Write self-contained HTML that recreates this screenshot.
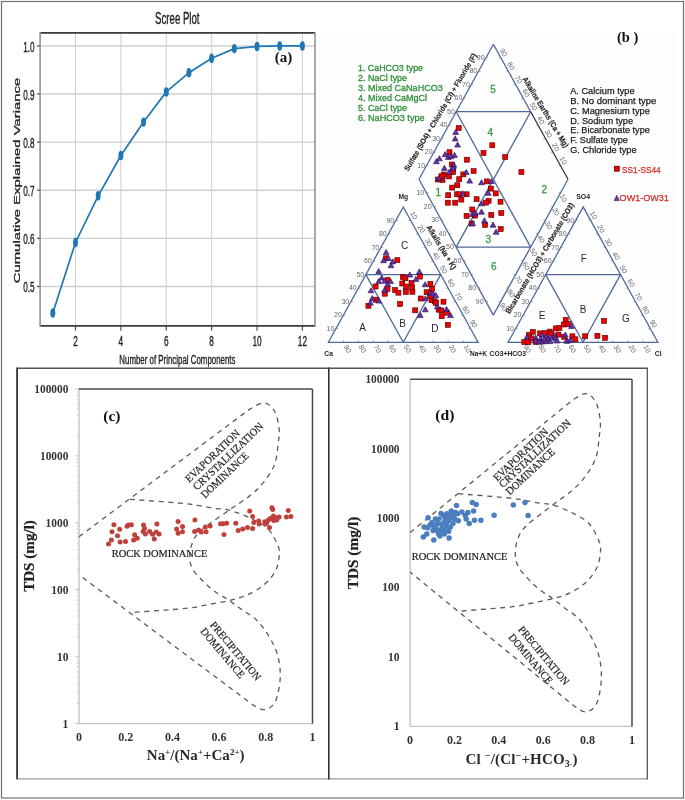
<!DOCTYPE html>
<html><head><meta charset="utf-8"><style>
html,body{margin:0;padding:0;background:#fff;}
svg{display:block;will-change:transform;}
</style></head><body>
<svg width="685" height="800" viewBox="0 0 685 800">
<rect width="685" height="800" fill="#fff"/>
<rect x="1.5" y="1.5" width="682" height="796.5" fill="none" stroke="#707070" stroke-width="1.2"/>
<line x1="75.50" y1="32.90" x2="75.50" y2="325.90" stroke="#d2d2d2" stroke-width="1.1" />
<line x1="75.50" y1="325.90" x2="75.50" y2="330.70" stroke="#444" stroke-width="1.1" />
<line x1="120.88" y1="32.90" x2="120.88" y2="325.90" stroke="#d2d2d2" stroke-width="1.1" />
<line x1="120.88" y1="325.90" x2="120.88" y2="330.70" stroke="#444" stroke-width="1.1" />
<line x1="166.26" y1="32.90" x2="166.26" y2="325.90" stroke="#d2d2d2" stroke-width="1.1" />
<line x1="166.26" y1="325.90" x2="166.26" y2="330.70" stroke="#444" stroke-width="1.1" />
<line x1="211.64" y1="32.90" x2="211.64" y2="325.90" stroke="#d2d2d2" stroke-width="1.1" />
<line x1="211.64" y1="325.90" x2="211.64" y2="330.70" stroke="#444" stroke-width="1.1" />
<line x1="257.02" y1="32.90" x2="257.02" y2="325.90" stroke="#d2d2d2" stroke-width="1.1" />
<line x1="257.02" y1="325.90" x2="257.02" y2="330.70" stroke="#444" stroke-width="1.1" />
<line x1="302.40" y1="32.90" x2="302.40" y2="325.90" stroke="#d2d2d2" stroke-width="1.1" />
<line x1="302.40" y1="325.90" x2="302.40" y2="330.70" stroke="#444" stroke-width="1.1" />
<line x1="40.10" y1="286.45" x2="315.00" y2="286.45" stroke="#cfcfcf" stroke-width="1.4" />
<line x1="37.30" y1="286.45" x2="40.10" y2="286.45" stroke="#444" stroke-width="1.4" />
<line x1="40.10" y1="238.35" x2="315.00" y2="238.35" stroke="#cfcfcf" stroke-width="1.4" />
<line x1="37.30" y1="238.35" x2="40.10" y2="238.35" stroke="#444" stroke-width="1.4" />
<line x1="40.10" y1="190.25" x2="315.00" y2="190.25" stroke="#cfcfcf" stroke-width="1.4" />
<line x1="37.30" y1="190.25" x2="40.10" y2="190.25" stroke="#444" stroke-width="1.4" />
<line x1="40.10" y1="142.15" x2="315.00" y2="142.15" stroke="#cfcfcf" stroke-width="1.4" />
<line x1="37.30" y1="142.15" x2="40.10" y2="142.15" stroke="#444" stroke-width="1.4" />
<line x1="40.10" y1="94.05" x2="315.00" y2="94.05" stroke="#cfcfcf" stroke-width="1.4" />
<line x1="37.30" y1="94.05" x2="40.10" y2="94.05" stroke="#444" stroke-width="1.4" />
<line x1="40.10" y1="45.95" x2="315.00" y2="45.95" stroke="#cfcfcf" stroke-width="1.4" />
<line x1="37.30" y1="45.95" x2="40.10" y2="45.95" stroke="#444" stroke-width="1.4" />
<line x1="40.10" y1="32.90" x2="315.00" y2="32.90" stroke="#3c3c3c" stroke-width="1.7" />
<line x1="40.10" y1="325.90" x2="315.00" y2="325.90" stroke="#3c3c3c" stroke-width="1.7" />
<line x1="40.10" y1="32.10" x2="40.10" y2="326.70" stroke="#8c8c8c" stroke-width="1.5" />
<line x1="315.00" y1="32.10" x2="315.00" y2="326.70" stroke="#8c8c8c" stroke-width="1.5" />
<polyline points="52.81,313.00 75.50,242.49 98.19,195.78 120.88,155.52 143.57,122.09 166.26,91.89 188.95,72.69 211.64,58.22 234.33,48.60 257.02,46.43 279.71,45.95 302.40,45.95" fill="none" stroke="#1f77b4" stroke-width="1.7"/>
<ellipse cx="52.81" cy="313.00" rx="2.5" ry="4.7" fill="#1f77b4"/>
<ellipse cx="75.50" cy="242.49" rx="2.5" ry="4.7" fill="#1f77b4"/>
<ellipse cx="98.19" cy="195.78" rx="2.5" ry="4.7" fill="#1f77b4"/>
<ellipse cx="120.88" cy="155.52" rx="2.5" ry="4.7" fill="#1f77b4"/>
<ellipse cx="143.57" cy="122.09" rx="2.5" ry="4.7" fill="#1f77b4"/>
<ellipse cx="166.26" cy="91.89" rx="2.5" ry="4.7" fill="#1f77b4"/>
<ellipse cx="188.95" cy="72.69" rx="2.5" ry="4.7" fill="#1f77b4"/>
<ellipse cx="211.64" cy="58.22" rx="2.5" ry="4.7" fill="#1f77b4"/>
<ellipse cx="234.33" cy="48.60" rx="2.5" ry="4.7" fill="#1f77b4"/>
<ellipse cx="257.02" cy="46.43" rx="2.5" ry="4.7" fill="#1f77b4"/>
<ellipse cx="279.71" cy="45.95" rx="2.5" ry="4.7" fill="#1f77b4"/>
<ellipse cx="302.40" cy="45.95" rx="2.5" ry="4.7" fill="#1f77b4"/>
<text transform="translate(75.50,346.00) scale(0.6,1)" font-family="Liberation Sans" font-size="13.8" font-weight="normal" text-anchor="middle" fill="#222" stroke="#222" stroke-width="0.35">2</text>
<text transform="translate(120.88,346.00) scale(0.6,1)" font-family="Liberation Sans" font-size="13.8" font-weight="normal" text-anchor="middle" fill="#222" stroke="#222" stroke-width="0.35">4</text>
<text transform="translate(166.26,346.00) scale(0.6,1)" font-family="Liberation Sans" font-size="13.8" font-weight="normal" text-anchor="middle" fill="#222" stroke="#222" stroke-width="0.35">6</text>
<text transform="translate(211.64,346.00) scale(0.6,1)" font-family="Liberation Sans" font-size="13.8" font-weight="normal" text-anchor="middle" fill="#222" stroke="#222" stroke-width="0.35">8</text>
<text transform="translate(257.02,346.00) scale(0.6,1)" font-family="Liberation Sans" font-size="13.8" font-weight="normal" text-anchor="middle" fill="#222" stroke="#222" stroke-width="0.35">10</text>
<text transform="translate(302.40,346.00) scale(0.6,1)" font-family="Liberation Sans" font-size="13.8" font-weight="normal" text-anchor="middle" fill="#222" stroke="#222" stroke-width="0.35">12</text>
<text transform="translate(34.60,292.05) scale(0.57,1)" font-family="Liberation Sans" font-size="14.4" font-weight="normal" text-anchor="end" fill="#222" stroke="#222" stroke-width="0.35">0.5</text>
<text transform="translate(34.60,243.95) scale(0.57,1)" font-family="Liberation Sans" font-size="14.4" font-weight="normal" text-anchor="end" fill="#222" stroke="#222" stroke-width="0.35">0.6</text>
<text transform="translate(34.60,195.85) scale(0.57,1)" font-family="Liberation Sans" font-size="14.4" font-weight="normal" text-anchor="end" fill="#222" stroke="#222" stroke-width="0.35">0.7</text>
<text transform="translate(34.60,147.75) scale(0.57,1)" font-family="Liberation Sans" font-size="14.4" font-weight="normal" text-anchor="end" fill="#222" stroke="#222" stroke-width="0.35">0.8</text>
<text transform="translate(34.60,99.65) scale(0.57,1)" font-family="Liberation Sans" font-size="14.4" font-weight="normal" text-anchor="end" fill="#222" stroke="#222" stroke-width="0.35">0.9</text>
<text transform="translate(34.60,51.55) scale(0.57,1)" font-family="Liberation Sans" font-size="14.4" font-weight="normal" text-anchor="end" fill="#222" stroke="#222" stroke-width="0.35">1.0</text>
<text transform="translate(177.40,364.40) scale(0.617,1)" font-family="Liberation Sans" font-size="12.8" font-weight="normal" text-anchor="middle" fill="#222" stroke="#222" stroke-width="0.35">Number of Principal Components</text>
<text transform="translate(177.30,24.20) scale(0.575,1)" font-family="Liberation Sans" font-size="16.8" font-weight="normal" text-anchor="middle" fill="#222" stroke="#222" stroke-width="0.35">Scree Plot</text>
<text transform="translate(19.8,180.5) rotate(-90) scale(1,0.6)" font-family="Liberation Sans" font-size="14.9" text-anchor="middle" fill="#222" stroke="#222" stroke-width="0.45">Cumulative Explained Variance</text>
<text x="283.40" y="61.60" font-family="Liberation Serif" font-size="15" font-weight="bold" text-anchor="middle" fill="#111" >(a)</text>
<line x1="17" y1="368.2" x2="647.3" y2="368.2" stroke="#555" stroke-width="1.6"/>
<line x1="17.1" y1="367.5" x2="17.1" y2="779.5" stroke="#333" stroke-width="1.8"/>
<line x1="17" y1="778.9" x2="647.3" y2="778.9" stroke="#999" stroke-width="1.3"/>
<line x1="328.8" y1="367.5" x2="328.8" y2="779.5" stroke="#333" stroke-width="1.6"/>
<line x1="647.3" y1="367.5" x2="647.3" y2="779.5" stroke="#555" stroke-width="1.3"/>
<line x1="79.00" y1="389.00" x2="79.00" y2="723.65" stroke="#c4c4c4" stroke-width="1.4" />
<line x1="79.00" y1="723.65" x2="312.50" y2="723.65" stroke="#c4c4c4" stroke-width="1.4" />
<line x1="79.00" y1="389.00" x2="312.50" y2="389.00" stroke="#4a4a4a" stroke-width="1.5" />
<line x1="312.50" y1="389.00" x2="312.50" y2="723.65" stroke="#4a4a4a" stroke-width="1.5" />
<line x1="75.50" y1="723.65" x2="79.00" y2="723.65" stroke="#bdbdbd" stroke-width="1" />
<line x1="76.50" y1="703.50" x2="79.00" y2="703.50" stroke="#c8c8c8" stroke-width="0.8" />
<line x1="76.50" y1="691.72" x2="79.00" y2="691.72" stroke="#c8c8c8" stroke-width="0.8" />
<line x1="76.50" y1="683.35" x2="79.00" y2="683.35" stroke="#c8c8c8" stroke-width="0.8" />
<line x1="76.50" y1="676.87" x2="79.00" y2="676.87" stroke="#c8c8c8" stroke-width="0.8" />
<line x1="76.50" y1="671.57" x2="79.00" y2="671.57" stroke="#c8c8c8" stroke-width="0.8" />
<line x1="76.50" y1="667.09" x2="79.00" y2="667.09" stroke="#c8c8c8" stroke-width="0.8" />
<line x1="76.50" y1="663.21" x2="79.00" y2="663.21" stroke="#c8c8c8" stroke-width="0.8" />
<line x1="76.50" y1="659.78" x2="79.00" y2="659.78" stroke="#c8c8c8" stroke-width="0.8" />
<text x="68.40" y="727.55" font-family="Liberation Serif" font-size="11.5" font-weight="bold" text-anchor="end" fill="#333" textLength="5.8" lengthAdjust="spacingAndGlyphs" >1</text>
<line x1="75.50" y1="656.72" x2="79.00" y2="656.72" stroke="#bdbdbd" stroke-width="1" />
<line x1="76.50" y1="636.57" x2="79.00" y2="636.57" stroke="#c8c8c8" stroke-width="0.8" />
<line x1="76.50" y1="624.79" x2="79.00" y2="624.79" stroke="#c8c8c8" stroke-width="0.8" />
<line x1="76.50" y1="616.42" x2="79.00" y2="616.42" stroke="#c8c8c8" stroke-width="0.8" />
<line x1="76.50" y1="609.94" x2="79.00" y2="609.94" stroke="#c8c8c8" stroke-width="0.8" />
<line x1="76.50" y1="604.64" x2="79.00" y2="604.64" stroke="#c8c8c8" stroke-width="0.8" />
<line x1="76.50" y1="600.16" x2="79.00" y2="600.16" stroke="#c8c8c8" stroke-width="0.8" />
<line x1="76.50" y1="596.28" x2="79.00" y2="596.28" stroke="#c8c8c8" stroke-width="0.8" />
<line x1="76.50" y1="592.85" x2="79.00" y2="592.85" stroke="#c8c8c8" stroke-width="0.8" />
<text x="68.40" y="660.62" font-family="Liberation Serif" font-size="11.5" font-weight="bold" text-anchor="end" fill="#333" textLength="11.5" lengthAdjust="spacingAndGlyphs" >10</text>
<line x1="75.50" y1="589.79" x2="79.00" y2="589.79" stroke="#bdbdbd" stroke-width="1" />
<line x1="76.50" y1="569.64" x2="79.00" y2="569.64" stroke="#c8c8c8" stroke-width="0.8" />
<line x1="76.50" y1="557.86" x2="79.00" y2="557.86" stroke="#c8c8c8" stroke-width="0.8" />
<line x1="76.50" y1="549.49" x2="79.00" y2="549.49" stroke="#c8c8c8" stroke-width="0.8" />
<line x1="76.50" y1="543.01" x2="79.00" y2="543.01" stroke="#c8c8c8" stroke-width="0.8" />
<line x1="76.50" y1="537.71" x2="79.00" y2="537.71" stroke="#c8c8c8" stroke-width="0.8" />
<line x1="76.50" y1="533.23" x2="79.00" y2="533.23" stroke="#c8c8c8" stroke-width="0.8" />
<line x1="76.50" y1="529.35" x2="79.00" y2="529.35" stroke="#c8c8c8" stroke-width="0.8" />
<line x1="76.50" y1="525.92" x2="79.00" y2="525.92" stroke="#c8c8c8" stroke-width="0.8" />
<text x="68.40" y="593.69" font-family="Liberation Serif" font-size="11.5" font-weight="bold" text-anchor="end" fill="#333" textLength="17.2" lengthAdjust="spacingAndGlyphs" >100</text>
<line x1="75.50" y1="522.86" x2="79.00" y2="522.86" stroke="#bdbdbd" stroke-width="1" />
<line x1="76.50" y1="502.71" x2="79.00" y2="502.71" stroke="#c8c8c8" stroke-width="0.8" />
<line x1="76.50" y1="490.93" x2="79.00" y2="490.93" stroke="#c8c8c8" stroke-width="0.8" />
<line x1="76.50" y1="482.56" x2="79.00" y2="482.56" stroke="#c8c8c8" stroke-width="0.8" />
<line x1="76.50" y1="476.08" x2="79.00" y2="476.08" stroke="#c8c8c8" stroke-width="0.8" />
<line x1="76.50" y1="470.78" x2="79.00" y2="470.78" stroke="#c8c8c8" stroke-width="0.8" />
<line x1="76.50" y1="466.30" x2="79.00" y2="466.30" stroke="#c8c8c8" stroke-width="0.8" />
<line x1="76.50" y1="462.42" x2="79.00" y2="462.42" stroke="#c8c8c8" stroke-width="0.8" />
<line x1="76.50" y1="458.99" x2="79.00" y2="458.99" stroke="#c8c8c8" stroke-width="0.8" />
<text x="68.40" y="526.76" font-family="Liberation Serif" font-size="11.5" font-weight="bold" text-anchor="end" fill="#333" textLength="22.8" lengthAdjust="spacingAndGlyphs" >1000</text>
<line x1="75.50" y1="455.93" x2="79.00" y2="455.93" stroke="#bdbdbd" stroke-width="1" />
<line x1="76.50" y1="435.78" x2="79.00" y2="435.78" stroke="#c8c8c8" stroke-width="0.8" />
<line x1="76.50" y1="424.00" x2="79.00" y2="424.00" stroke="#c8c8c8" stroke-width="0.8" />
<line x1="76.50" y1="415.63" x2="79.00" y2="415.63" stroke="#c8c8c8" stroke-width="0.8" />
<line x1="76.50" y1="409.15" x2="79.00" y2="409.15" stroke="#c8c8c8" stroke-width="0.8" />
<line x1="76.50" y1="403.85" x2="79.00" y2="403.85" stroke="#c8c8c8" stroke-width="0.8" />
<line x1="76.50" y1="399.37" x2="79.00" y2="399.37" stroke="#c8c8c8" stroke-width="0.8" />
<line x1="76.50" y1="395.49" x2="79.00" y2="395.49" stroke="#c8c8c8" stroke-width="0.8" />
<line x1="76.50" y1="392.06" x2="79.00" y2="392.06" stroke="#c8c8c8" stroke-width="0.8" />
<text x="68.40" y="459.83" font-family="Liberation Serif" font-size="11.5" font-weight="bold" text-anchor="end" fill="#333" textLength="28.4" lengthAdjust="spacingAndGlyphs" >10000</text>
<line x1="75.50" y1="389.00" x2="79.00" y2="389.00" stroke="#bdbdbd" stroke-width="1" />
<text x="68.40" y="392.90" font-family="Liberation Serif" font-size="11.5" font-weight="bold" text-anchor="end" fill="#333" textLength="34.1" lengthAdjust="spacingAndGlyphs" >100000</text>
<text x="79.00" y="740.75" font-family="Liberation Serif" font-size="12" font-weight="bold" text-anchor="middle" fill="#333" >0</text>
<text x="125.70" y="740.75" font-family="Liberation Serif" font-size="12" font-weight="bold" text-anchor="middle" fill="#333" >0.2</text>
<text x="172.40" y="740.75" font-family="Liberation Serif" font-size="12" font-weight="bold" text-anchor="middle" fill="#333" >0.4</text>
<text x="219.10" y="740.75" font-family="Liberation Serif" font-size="12" font-weight="bold" text-anchor="middle" fill="#333" >0.6</text>
<text x="265.80" y="740.75" font-family="Liberation Serif" font-size="12" font-weight="bold" text-anchor="middle" fill="#333" >0.8</text>
<text x="312.50" y="740.75" font-family="Liberation Serif" font-size="12" font-weight="bold" text-anchor="middle" fill="#333" >1</text>
<line x1="410.10" y1="379.30" x2="410.10" y2="726.40" stroke="#c4c4c4" stroke-width="1.4" />
<line x1="410.10" y1="726.40" x2="632.00" y2="726.40" stroke="#c4c4c4" stroke-width="1.4" />
<line x1="410.10" y1="379.30" x2="632.00" y2="379.30" stroke="#4a4a4a" stroke-width="1.5" />
<line x1="632.00" y1="379.30" x2="632.00" y2="726.40" stroke="#4a4a4a" stroke-width="1.5" />
<text x="399.50" y="730.30" font-family="Liberation Serif" font-size="11.5" font-weight="bold" text-anchor="end" fill="#333" textLength="5.8" lengthAdjust="spacingAndGlyphs" >1</text>
<text x="399.50" y="660.88" font-family="Liberation Serif" font-size="11.5" font-weight="bold" text-anchor="end" fill="#333" textLength="11.5" lengthAdjust="spacingAndGlyphs" >10</text>
<text x="399.50" y="591.46" font-family="Liberation Serif" font-size="11.5" font-weight="bold" text-anchor="end" fill="#333" textLength="17.2" lengthAdjust="spacingAndGlyphs" >100</text>
<text x="399.50" y="522.04" font-family="Liberation Serif" font-size="11.5" font-weight="bold" text-anchor="end" fill="#333" textLength="22.8" lengthAdjust="spacingAndGlyphs" >1000</text>
<text x="399.50" y="452.62" font-family="Liberation Serif" font-size="11.5" font-weight="bold" text-anchor="end" fill="#333" textLength="28.4" lengthAdjust="spacingAndGlyphs" >10000</text>
<text x="399.50" y="383.20" font-family="Liberation Serif" font-size="11.5" font-weight="bold" text-anchor="end" fill="#333" textLength="34.1" lengthAdjust="spacingAndGlyphs" >100000</text>
<text x="410.10" y="743.50" font-family="Liberation Serif" font-size="12" font-weight="bold" text-anchor="middle" fill="#333" >0</text>
<text x="454.48" y="743.50" font-family="Liberation Serif" font-size="12" font-weight="bold" text-anchor="middle" fill="#333" >0.2</text>
<text x="498.86" y="743.50" font-family="Liberation Serif" font-size="12" font-weight="bold" text-anchor="middle" fill="#333" >0.4</text>
<text x="543.24" y="743.50" font-family="Liberation Serif" font-size="12" font-weight="bold" text-anchor="middle" fill="#333" >0.6</text>
<text x="587.62" y="743.50" font-family="Liberation Serif" font-size="12" font-weight="bold" text-anchor="middle" fill="#333" >0.8</text>
<text x="632.00" y="743.50" font-family="Liberation Serif" font-size="12" font-weight="bold" text-anchor="middle" fill="#333" >1</text>
<path d="M79.00,536.78 L250.16,408.88 C252.49,407.86 260.08,402.35 264.17,402.79 C268.25,403.22 272.18,407.09 274.67,411.49 C277.16,415.88 278.53,423.87 279.11,429.16 C279.69,434.45 278.91,437.40 278.18,443.21 C277.44,449.03 277.01,457.63 274.67,464.03 C272.34,470.43 268.25,476.37 264.17,481.63 C260.08,486.90 255.99,490.87 250.16,495.62 C244.32,500.37 237.31,504.35 229.14,510.14 C220.97,515.93 207.23,524.93 201.12,530.36 C195.01,535.78 194.39,538.29 192.48,542.67 C190.57,547.06 189.68,552.29 189.68,556.66 C189.68,561.03 190.26,564.83 192.48,568.91 C194.70,572.99 199.21,577.36 202.99,581.16 C206.76,584.95 210.77,588.44 215.13,591.66 C219.49,594.89 224.78,597.58 229.14,600.50 C233.50,603.42 236.30,605.53 241.28,609.20 C246.26,612.87 253.35,615.92 259.03,622.52 C264.71,629.12 271.83,640.05 275.37,648.82 C278.91,657.59 280.28,666.36 280.28,675.13 C280.28,683.89 278.10,695.67 275.37,701.43 C272.65,707.19 267.75,709.13 263.93,709.66 C260.12,710.20 254.40,705.48 252.49,704.64 L79.00,574.86" fill="none" stroke="#5a5a5a" stroke-width="1.3" stroke-dasharray="5 4.6"/>
<path d="M129.90,499.30 C138.27,499.95 168.82,502.18 180.11,503.18 C191.39,504.19 191.78,504.44 197.62,505.32 C203.46,506.21 209.88,507.67 215.13,508.47 C220.38,509.27 223.30,508.55 229.14,510.14 C234.98,511.74 243.73,514.97 250.16,518.04 C256.58,521.11 263.00,523.88 267.67,528.55 C272.34,533.22 276.27,541.40 278.18,546.08 C280.08,550.77 279.54,552.57 279.11,556.66 C278.68,560.75 278.10,565.97 275.61,570.65 C273.12,575.32 268.99,580.61 264.17,584.70 C259.34,588.80 252.49,592.58 246.65,595.21 C240.82,597.84 235.83,598.88 229.14,600.50 C222.45,602.12 213.77,603.60 206.49,604.92 C199.21,606.23 198.32,607.10 185.48,608.40 C172.63,609.69 138.78,611.97 129.44,612.68" fill="none" stroke="#5a5a5a" stroke-width="1.3" stroke-dasharray="5 4.6"/>
<path d="M410.10,532.58 L572.75,399.92 C574.97,398.86 582.18,393.15 586.07,393.60 C589.95,394.05 593.69,398.07 596.05,402.63 C598.42,407.18 599.71,415.47 600.27,420.95 C600.82,426.44 600.08,429.50 599.38,435.53 C598.68,441.56 598.27,450.48 596.05,457.12 C593.83,463.76 589.95,469.92 586.07,475.38 C582.18,480.84 578.30,484.96 572.75,489.89 C567.21,494.81 560.55,498.95 552.78,504.95 C545.02,510.96 531.96,520.29 526.15,525.92 C520.35,531.54 519.76,534.14 517.94,538.69 C516.13,543.24 515.28,548.66 515.28,553.20 C515.28,557.73 515.84,561.67 517.94,565.90 C520.05,570.14 524.34,574.67 527.93,578.60 C531.52,582.54 535.33,586.16 539.47,589.50 C543.61,592.85 548.64,595.64 552.78,598.67 C556.92,601.70 559.59,603.89 564.32,607.69 C569.05,611.50 575.79,614.66 581.18,621.51 C586.58,628.36 593.35,639.69 596.72,648.79 C600.08,657.88 601.38,666.98 601.38,676.07 C601.38,685.16 599.31,697.38 596.72,703.35 C594.13,709.32 589.47,711.34 585.84,711.89 C582.22,712.45 576.78,707.55 574.97,706.68 L410.10,572.08" fill="none" stroke="#5a5a5a" stroke-width="1.3" stroke-dasharray="5 4.6"/>
<path d="M458.47,493.70 C466.43,494.38 495.46,496.69 506.18,497.73 C516.91,498.77 517.28,499.04 522.83,499.95 C528.37,500.87 534.47,502.38 539.47,503.21 C544.46,504.05 547.23,503.30 552.78,504.95 C558.33,506.60 566.65,509.96 572.75,513.14 C578.85,516.32 584.96,519.19 589.40,524.04 C593.83,528.89 597.57,537.37 599.38,542.23 C601.19,547.09 600.68,548.95 600.27,553.20 C599.86,557.44 599.31,562.86 596.94,567.71 C594.57,572.55 590.65,578.04 586.07,582.28 C581.48,586.53 574.97,590.45 569.42,593.18 C563.88,595.91 559.14,596.99 552.78,598.67 C546.42,600.34 538.17,601.88 531.26,603.25 C524.34,604.61 523.49,605.52 511.29,606.86 C499.08,608.20 466.91,610.56 458.03,611.30" fill="none" stroke="#5a5a5a" stroke-width="1.3" stroke-dasharray="5 4.6"/>
<text x="111.85" y="421.00" font-family="Liberation Serif" font-size="15.5" font-weight="bold" text-anchor="middle" fill="#111" >(c)</text>
<text transform="translate(33.90,556.00) rotate(-90.00)" font-family="Liberation Serif" font-size="15.1" font-weight="bold" text-anchor="middle" fill="#222" stroke="#222" stroke-width="0.2">TDS (mg/l)</text>
<text x="111.70" y="556.90" font-family="Liberation Serif" font-size="10.45" font-weight="normal" text-anchor="start" fill="#1e1e1e" textLength="95.6" lengthAdjust="spacingAndGlyphs" stroke="#1e1e1e" stroke-width="0.2">ROCK DOMINANCE</text>
<text transform="translate(189.20,482.90) rotate(-43.40)" font-family="Liberation Serif" font-size="10.8" font-weight="normal" text-anchor="start" fill="#1e1e1e" textLength="70.8" lengthAdjust="spacingAndGlyphs" stroke="#1e1e1e" stroke-width="0.2">EVAPORATION</text>
<text transform="translate(197.10,490.80) rotate(-43.60)" font-family="Liberation Serif" font-size="10.8" font-weight="normal" text-anchor="start" fill="#1e1e1e" textLength="92.4" lengthAdjust="spacingAndGlyphs" stroke="#1e1e1e" stroke-width="0.2">CRYSTALLIZATION</text>
<text transform="translate(205.00,498.70) rotate(-43.40)" font-family="Liberation Serif" font-size="10.8" font-weight="normal" text-anchor="start" fill="#1e1e1e" textLength="61.3" lengthAdjust="spacingAndGlyphs" stroke="#1e1e1e" stroke-width="0.2">DOMINANCE</text>
<text transform="translate(209.60,625.20) rotate(50.20)" font-family="Liberation Serif" font-size="10.6" font-weight="normal" text-anchor="start" fill="#1e1e1e" textLength="72.9" lengthAdjust="spacingAndGlyphs" stroke="#1e1e1e" stroke-width="0.2">PRECIPITATION</text>
<text transform="translate(199.90,631.60) rotate(49.80)" font-family="Liberation Serif" font-size="10.6" font-weight="normal" text-anchor="start" fill="#1e1e1e" textLength="62.0" lengthAdjust="spacingAndGlyphs" stroke="#1e1e1e" stroke-width="0.2">DOMINANCE</text>
<text x="195.7" y="760.1" font-family="Liberation Serif" font-size="15" font-weight="bold" text-anchor="middle" fill="#2a2a2a">Na<tspan font-size="9" dy="-5.5">+</tspan><tspan dy="5.5">/(Na</tspan><tspan font-size="9" dy="-5.5">+</tspan><tspan dy="5.5">+Ca</tspan><tspan font-size="9" dy="-5.5">2+</tspan><tspan dy="5.5">)</tspan></text>
<text x="444.85" y="419.60" font-family="Liberation Serif" font-size="15.6" font-weight="bold" text-anchor="middle" fill="#111" >(d)</text>
<text transform="translate(358.30,552.90) rotate(-90.00)" font-family="Liberation Serif" font-size="15.3" font-weight="bold" text-anchor="middle" fill="#222" stroke="#222" stroke-width="0.2">TDS (mg/l)</text>
<text x="411.70" y="559.60" font-family="Liberation Serif" font-size="10.45" font-weight="normal" text-anchor="start" fill="#1e1e1e" textLength="95.8" lengthAdjust="spacingAndGlyphs" stroke="#1e1e1e" stroke-width="0.2">ROCK DOMINANCE</text>
<text transform="translate(497.20,481.80) rotate(-43.60)" font-family="Liberation Serif" font-size="10.8" font-weight="normal" text-anchor="start" fill="#1e1e1e" textLength="71.4" lengthAdjust="spacingAndGlyphs" stroke="#1e1e1e" stroke-width="0.2">EVAPORATION</text>
<text transform="translate(503.10,488.30) rotate(-43.30)" font-family="Liberation Serif" font-size="10.8" font-weight="normal" text-anchor="start" fill="#1e1e1e" textLength="93.9" lengthAdjust="spacingAndGlyphs" stroke="#1e1e1e" stroke-width="0.2">CRYSTALLIZATION</text>
<text transform="translate(509.70,495.50) rotate(-42.90)" font-family="Liberation Serif" font-size="10.8" font-weight="normal" text-anchor="start" fill="#1e1e1e" textLength="62.8" lengthAdjust="spacingAndGlyphs" stroke="#1e1e1e" stroke-width="0.2">DOMINANCE</text>
<text transform="translate(517.80,629.80) rotate(50.20)" font-family="Liberation Serif" font-size="10.6" font-weight="normal" text-anchor="start" fill="#1e1e1e" textLength="72.9" lengthAdjust="spacingAndGlyphs" stroke="#1e1e1e" stroke-width="0.2">PRECIPITATION</text>
<text transform="translate(507.90,637.40) rotate(49.80)" font-family="Liberation Serif" font-size="10.6" font-weight="normal" text-anchor="start" fill="#1e1e1e" textLength="62.0" lengthAdjust="spacingAndGlyphs" stroke="#1e1e1e" stroke-width="0.2">DOMINANCE</text>
<text x="521.5" y="763.5" font-family="Liberation Serif" font-size="15" font-weight="bold" text-anchor="middle" fill="#2a2a2a" textLength="112" lengthAdjust="spacing">Cl <tspan font-size="10" dy="-5">−</tspan><tspan dy="5">/(Cl</tspan><tspan font-size="10" dy="-5">−</tspan><tspan dy="5">+HCO</tspan><tspan font-size="10" dy="3">3</tspan><tspan font-size="7" dy="-1">-</tspan><tspan dy="-2">)</tspan></text>
<circle cx="113.9" cy="524.8" r="2.5" fill="#c0403c"/>
<circle cx="112.0" cy="531.8" r="2.5" fill="#c0403c"/>
<circle cx="119.7" cy="529.2" r="2.5" fill="#c0403c"/>
<circle cx="117.5" cy="535.8" r="2.5" fill="#c0403c"/>
<circle cx="111.4" cy="540.1" r="2.5" fill="#c0403c"/>
<circle cx="108.5" cy="544.1" r="2.5" fill="#c0403c"/>
<circle cx="120.1" cy="541.9" r="2.5" fill="#c0403c"/>
<circle cx="125.5" cy="541.6" r="2.5" fill="#c0403c"/>
<circle cx="127.0" cy="526.3" r="2.5" fill="#c0403c"/>
<circle cx="131.4" cy="524.8" r="2.5" fill="#c0403c"/>
<circle cx="128.5" cy="525.1" r="2.5" fill="#c0403c"/>
<circle cx="134.6" cy="534.7" r="2.5" fill="#c0403c"/>
<circle cx="137.2" cy="538.2" r="2.5" fill="#c0403c"/>
<circle cx="133.6" cy="540.1" r="2.5" fill="#c0403c"/>
<circle cx="143.5" cy="525.1" r="2.5" fill="#c0403c"/>
<circle cx="144.5" cy="528.5" r="2.5" fill="#c0403c"/>
<circle cx="143.1" cy="531.4" r="2.5" fill="#c0403c"/>
<circle cx="145.3" cy="533.9" r="2.5" fill="#c0403c"/>
<circle cx="149.6" cy="531.4" r="2.5" fill="#c0403c"/>
<circle cx="152.6" cy="534.3" r="2.5" fill="#c0403c"/>
<circle cx="154.3" cy="539.1" r="2.5" fill="#c0403c"/>
<circle cx="156.9" cy="524.1" r="2.5" fill="#c0403c"/>
<circle cx="156.2" cy="532.1" r="2.5" fill="#c0403c"/>
<circle cx="159.1" cy="533.9" r="2.5" fill="#c0403c"/>
<circle cx="178.1" cy="521.6" r="2.5" fill="#c0403c"/>
<circle cx="182.5" cy="526.6" r="2.5" fill="#c0403c"/>
<circle cx="176.6" cy="528.9" r="2.5" fill="#c0403c"/>
<circle cx="182.5" cy="531.8" r="2.5" fill="#c0403c"/>
<circle cx="178.1" cy="533.3" r="2.5" fill="#c0403c"/>
<circle cx="194.9" cy="520.1" r="2.5" fill="#c0403c"/>
<circle cx="194.6" cy="531.4" r="2.5" fill="#c0403c"/>
<circle cx="198.5" cy="529.9" r="2.5" fill="#c0403c"/>
<circle cx="201.2" cy="532.1" r="2.5" fill="#c0403c"/>
<circle cx="205.3" cy="527.0" r="2.5" fill="#c0403c"/>
<circle cx="206.1" cy="531.8" r="2.5" fill="#c0403c"/>
<circle cx="210.1" cy="526.0" r="2.5" fill="#c0403c"/>
<circle cx="220.5" cy="523.8" r="2.5" fill="#c0403c"/>
<circle cx="222.9" cy="523.8" r="2.5" fill="#c0403c"/>
<circle cx="226.6" cy="523.3" r="2.5" fill="#c0403c"/>
<circle cx="224.0" cy="534.5" r="2.5" fill="#c0403c"/>
<circle cx="235.8" cy="523.3" r="2.5" fill="#c0403c"/>
<circle cx="238.2" cy="530.5" r="2.5" fill="#c0403c"/>
<circle cx="242.7" cy="528.9" r="2.5" fill="#c0403c"/>
<circle cx="247.5" cy="527.6" r="2.5" fill="#c0403c"/>
<circle cx="252.6" cy="528.4" r="2.5" fill="#c0403c"/>
<circle cx="249.7" cy="510.9" r="2.5" fill="#c0403c"/>
<circle cx="252.6" cy="516.4" r="2.5" fill="#c0403c"/>
<circle cx="253.8" cy="522.5" r="2.5" fill="#c0403c"/>
<circle cx="258.7" cy="520.9" r="2.5" fill="#c0403c"/>
<circle cx="259.1" cy="524.1" r="2.5" fill="#c0403c"/>
<circle cx="264.7" cy="521.7" r="2.5" fill="#c0403c"/>
<circle cx="266.8" cy="522.8" r="2.5" fill="#c0403c"/>
<circle cx="269.5" cy="527.6" r="2.5" fill="#c0403c"/>
<circle cx="270.3" cy="518.5" r="2.5" fill="#c0403c"/>
<circle cx="271.9" cy="507.7" r="2.5" fill="#c0403c"/>
<circle cx="272.7" cy="509.6" r="2.5" fill="#c0403c"/>
<circle cx="273.8" cy="520.6" r="2.5" fill="#c0403c"/>
<circle cx="277.5" cy="517.7" r="2.5" fill="#c0403c"/>
<circle cx="279.1" cy="516.9" r="2.5" fill="#c0403c"/>
<circle cx="275.1" cy="518.0" r="2.5" fill="#c0403c"/>
<circle cx="276.7" cy="520.1" r="2.5" fill="#c0403c"/>
<circle cx="273.5" cy="516.1" r="2.5" fill="#c0403c"/>
<circle cx="268.4" cy="520.1" r="2.5" fill="#c0403c"/>
<circle cx="288.3" cy="510.4" r="2.5" fill="#c0403c"/>
<circle cx="286.4" cy="516.9" r="2.5" fill="#c0403c"/>
<circle cx="290.9" cy="516.5" r="2.5" fill="#c0403c"/>
<circle cx="265.5" cy="524.1" r="2.5" fill="#c0403c"/>
<circle cx="456.5" cy="505.4" r="2.75" fill="#4a7ebf"/>
<circle cx="472.3" cy="502.4" r="2.75" fill="#4a7ebf"/>
<circle cx="476.2" cy="504.6" r="2.75" fill="#4a7ebf"/>
<circle cx="473.6" cy="511.1" r="2.75" fill="#4a7ebf"/>
<circle cx="474.5" cy="520.3" r="2.75" fill="#4a7ebf"/>
<circle cx="469.2" cy="523.4" r="2.75" fill="#4a7ebf"/>
<circle cx="428.1" cy="517.7" r="2.75" fill="#4a7ebf"/>
<circle cx="449.1" cy="537.9" r="2.75" fill="#4a7ebf"/>
<circle cx="433.8" cy="540.0" r="2.75" fill="#4a7ebf"/>
<circle cx="423.3" cy="537.0" r="2.75" fill="#4a7ebf"/>
<circle cx="426.8" cy="533.9" r="2.75" fill="#4a7ebf"/>
<circle cx="424.1" cy="526.9" r="2.75" fill="#4a7ebf"/>
<circle cx="427.6" cy="527.8" r="2.75" fill="#4a7ebf"/>
<circle cx="439.9" cy="536.1" r="2.75" fill="#4a7ebf"/>
<circle cx="444.3" cy="533.9" r="2.75" fill="#4a7ebf"/>
<circle cx="432.0" cy="522.5" r="2.75" fill="#4a7ebf"/>
<circle cx="435.5" cy="526.9" r="2.75" fill="#4a7ebf"/>
<circle cx="437.3" cy="530.4" r="2.75" fill="#4a7ebf"/>
<circle cx="439.0" cy="519.0" r="2.75" fill="#4a7ebf"/>
<circle cx="443.4" cy="515.5" r="2.75" fill="#4a7ebf"/>
<circle cx="446.9" cy="513.8" r="2.75" fill="#4a7ebf"/>
<circle cx="451.3" cy="511.1" r="2.75" fill="#4a7ebf"/>
<circle cx="453.0" cy="515.5" r="2.75" fill="#4a7ebf"/>
<circle cx="448.7" cy="520.8" r="2.75" fill="#4a7ebf"/>
<circle cx="446.9" cy="526.9" r="2.75" fill="#4a7ebf"/>
<circle cx="450.4" cy="526.9" r="2.75" fill="#4a7ebf"/>
<circle cx="448.7" cy="531.3" r="2.75" fill="#4a7ebf"/>
<circle cx="441.6" cy="524.3" r="2.75" fill="#4a7ebf"/>
<circle cx="440.8" cy="529.5" r="2.75" fill="#4a7ebf"/>
<circle cx="454.8" cy="519.0" r="2.75" fill="#4a7ebf"/>
<circle cx="458.3" cy="520.8" r="2.75" fill="#4a7ebf"/>
<circle cx="457.4" cy="513.8" r="2.75" fill="#4a7ebf"/>
<circle cx="461.8" cy="512.0" r="2.75" fill="#4a7ebf"/>
<circle cx="465.3" cy="515.5" r="2.75" fill="#4a7ebf"/>
<circle cx="467.9" cy="512.5" r="2.75" fill="#4a7ebf"/>
<circle cx="466.2" cy="519.0" r="2.75" fill="#4a7ebf"/>
<circle cx="445.2" cy="519.0" r="2.75" fill="#4a7ebf"/>
<circle cx="435.5" cy="519.0" r="2.75" fill="#4a7ebf"/>
<circle cx="433.8" cy="526.0" r="2.75" fill="#4a7ebf"/>
<circle cx="444.3" cy="522.5" r="2.75" fill="#4a7ebf"/>
<circle cx="453.0" cy="523.4" r="2.75" fill="#4a7ebf"/>
<circle cx="441.0" cy="513.5" r="2.75" fill="#4a7ebf"/>
<circle cx="447.0" cy="517.5" r="2.75" fill="#4a7ebf"/>
<circle cx="451.0" cy="518.0" r="2.75" fill="#4a7ebf"/>
<circle cx="437.5" cy="523.5" r="2.75" fill="#4a7ebf"/>
<circle cx="442.5" cy="527.5" r="2.75" fill="#4a7ebf"/>
<circle cx="446.5" cy="523.0" r="2.75" fill="#4a7ebf"/>
<circle cx="433.0" cy="530.5" r="2.75" fill="#4a7ebf"/>
<circle cx="438.5" cy="533.5" r="2.75" fill="#4a7ebf"/>
<circle cx="443.5" cy="531.0" r="2.75" fill="#4a7ebf"/>
<circle cx="450.0" cy="514.0" r="2.75" fill="#4a7ebf"/>
<circle cx="430.0" cy="525.0" r="2.75" fill="#4a7ebf"/>
<circle cx="455.5" cy="512.5" r="2.75" fill="#4a7ebf"/>
<circle cx="480.9" cy="520.2" r="2.75" fill="#4a7ebf"/>
<circle cx="494.1" cy="515.2" r="2.75" fill="#4a7ebf"/>
<circle cx="513.3" cy="505.1" r="2.75" fill="#4a7ebf"/>
<circle cx="525.0" cy="502.4" r="2.75" fill="#4a7ebf"/>
<circle cx="528.1" cy="515.6" r="2.75" fill="#4a7ebf"/>
<rect x="320" y="33.3" width="353.5" height="325.7" fill="#fefefe" stroke="#f6f6f6" stroke-width="0.8"/>
<line x1="343.37" y1="342.30" x2="343.37" y2="340.10" stroke="#9a9a9a" stroke-width="0.8" />
<text transform="translate(345.57,349.90) rotate(60.0)" font-family="Liberation Sans" font-size="7.0" font-weight="normal" text-anchor="middle" fill="#666666">90</text>
<line x1="523.08" y1="342.30" x2="523.08" y2="340.10" stroke="#9a9a9a" stroke-width="0.8" />
<text transform="translate(525.28,349.90) rotate(60.0)" font-family="Liberation Sans" font-size="7.0" font-weight="normal" text-anchor="middle" fill="#666666">90</text>
<line x1="335.89" y1="328.77" x2="338.09" y2="328.77" stroke="#9a9a9a" stroke-width="0.8" />
<text transform="translate(334.29,330.97)" font-family="Liberation Sans" font-size="7.0" font-weight="normal" text-anchor="end" fill="#666666">10</text>
<line x1="515.61" y1="328.76" x2="517.81" y2="328.76" stroke="#9a9a9a" stroke-width="0.8" />
<text transform="translate(514.01,330.96)" font-family="Liberation Sans" font-size="7.0" font-weight="normal" text-anchor="end" fill="#666666">10</text>
<line x1="410.78" y1="220.53" x2="408.58" y2="220.53" stroke="#9a9a9a" stroke-width="0.8" />
<text transform="translate(411.68,216.53) rotate(60.0)" font-family="Liberation Sans" font-size="7.0" font-weight="normal" text-anchor="middle" fill="#666666">10</text>
<line x1="590.67" y1="220.44" x2="588.47" y2="220.44" stroke="#9a9a9a" stroke-width="0.8" />
<text transform="translate(591.57,216.44) rotate(60.0)" font-family="Liberation Sans" font-size="7.0" font-weight="normal" text-anchor="middle" fill="#666666">10</text>
<line x1="426.44" y1="165.70" x2="428.64" y2="165.70" stroke="#9a9a9a" stroke-width="0.8" />
<text transform="translate(425.14,167.90)" font-family="Liberation Sans" font-size="7.0" font-weight="normal" text-anchor="end" fill="#666666">10</text>
<line x1="426.43" y1="192.79" x2="428.63" y2="192.79" stroke="#9a9a9a" stroke-width="0.8" />
<text transform="translate(424.13,194.99)" font-family="Liberation Sans" font-size="7.0" font-weight="normal" text-anchor="end" fill="#666666">10</text>
<line x1="500.86" y1="57.70" x2="498.66" y2="57.70" stroke="#9a9a9a" stroke-width="0.8" />
<text transform="translate(501.56,53.70) rotate(60.0)" font-family="Liberation Sans" font-size="7.0" font-weight="normal" text-anchor="middle" fill="#666666">90</text>
<line x1="560.53" y1="192.79" x2="558.33" y2="192.79" stroke="#9a9a9a" stroke-width="0.8" />
<text transform="translate(561.33,199.24) rotate(60.0)" font-family="Liberation Sans" font-size="7.0" font-weight="normal" text-anchor="middle" fill="#666666">10</text>
<line x1="358.34" y1="342.30" x2="358.34" y2="340.10" stroke="#9a9a9a" stroke-width="0.8" />
<text transform="translate(360.54,349.90) rotate(60.0)" font-family="Liberation Sans" font-size="7.0" font-weight="normal" text-anchor="middle" fill="#666666">80</text>
<line x1="538.06" y1="342.30" x2="538.06" y2="340.10" stroke="#9a9a9a" stroke-width="0.8" />
<text transform="translate(540.26,349.90) rotate(60.0)" font-family="Liberation Sans" font-size="7.0" font-weight="normal" text-anchor="middle" fill="#666666">80</text>
<line x1="343.38" y1="315.24" x2="345.58" y2="315.24" stroke="#9a9a9a" stroke-width="0.8" />
<text transform="translate(341.78,317.44)" font-family="Liberation Sans" font-size="7.0" font-weight="normal" text-anchor="end" fill="#666666">20</text>
<line x1="523.12" y1="315.22" x2="525.32" y2="315.22" stroke="#9a9a9a" stroke-width="0.8" />
<text transform="translate(521.52,317.42)" font-family="Liberation Sans" font-size="7.0" font-weight="normal" text-anchor="end" fill="#666666">20</text>
<line x1="418.26" y1="234.06" x2="416.06" y2="234.06" stroke="#9a9a9a" stroke-width="0.8" />
<text transform="translate(419.16,230.06) rotate(60.0)" font-family="Liberation Sans" font-size="7.0" font-weight="normal" text-anchor="middle" fill="#666666">20</text>
<line x1="598.14" y1="233.98" x2="595.94" y2="233.98" stroke="#9a9a9a" stroke-width="0.8" />
<text transform="translate(599.04,229.98) rotate(60.0)" font-family="Liberation Sans" font-size="7.0" font-weight="normal" text-anchor="middle" fill="#666666">20</text>
<line x1="433.88" y1="152.20" x2="436.08" y2="152.20" stroke="#9a9a9a" stroke-width="0.8" />
<text transform="translate(432.58,154.40)" font-family="Liberation Sans" font-size="7.0" font-weight="normal" text-anchor="end" fill="#666666">20</text>
<line x1="433.86" y1="206.38" x2="436.06" y2="206.38" stroke="#9a9a9a" stroke-width="0.8" />
<text transform="translate(431.56,208.58)" font-family="Liberation Sans" font-size="7.0" font-weight="normal" text-anchor="end" fill="#666666">20</text>
<line x1="508.32" y1="71.20" x2="506.12" y2="71.20" stroke="#9a9a9a" stroke-width="0.8" />
<text transform="translate(509.02,67.20) rotate(60.0)" font-family="Liberation Sans" font-size="7.0" font-weight="normal" text-anchor="middle" fill="#666666">80</text>
<line x1="553.06" y1="206.38" x2="550.86" y2="206.38" stroke="#9a9a9a" stroke-width="0.8" />
<text transform="translate(553.86,212.83) rotate(60.0)" font-family="Liberation Sans" font-size="7.0" font-weight="normal" text-anchor="middle" fill="#666666">20</text>
<line x1="373.31" y1="342.30" x2="373.31" y2="340.10" stroke="#9a9a9a" stroke-width="0.8" />
<text transform="translate(375.51,349.90) rotate(60.0)" font-family="Liberation Sans" font-size="7.0" font-weight="normal" text-anchor="middle" fill="#666666">70</text>
<line x1="553.04" y1="342.30" x2="553.04" y2="340.10" stroke="#9a9a9a" stroke-width="0.8" />
<text transform="translate(555.24,349.90) rotate(60.0)" font-family="Liberation Sans" font-size="7.0" font-weight="normal" text-anchor="middle" fill="#666666">70</text>
<line x1="350.87" y1="301.71" x2="353.07" y2="301.71" stroke="#9a9a9a" stroke-width="0.8" />
<text transform="translate(349.27,303.91)" font-family="Liberation Sans" font-size="7.0" font-weight="normal" text-anchor="end" fill="#666666">30</text>
<line x1="530.63" y1="301.68" x2="532.83" y2="301.68" stroke="#9a9a9a" stroke-width="0.8" />
<text transform="translate(529.03,303.88)" font-family="Liberation Sans" font-size="7.0" font-weight="normal" text-anchor="end" fill="#666666">30</text>
<line x1="425.74" y1="247.59" x2="423.54" y2="247.59" stroke="#9a9a9a" stroke-width="0.8" />
<text transform="translate(426.64,243.59) rotate(60.0)" font-family="Liberation Sans" font-size="7.0" font-weight="normal" text-anchor="middle" fill="#666666">30</text>
<line x1="605.61" y1="247.52" x2="603.41" y2="247.52" stroke="#9a9a9a" stroke-width="0.8" />
<text transform="translate(606.51,243.52) rotate(60.0)" font-family="Liberation Sans" font-size="7.0" font-weight="normal" text-anchor="middle" fill="#666666">30</text>
<line x1="441.32" y1="138.70" x2="443.52" y2="138.70" stroke="#9a9a9a" stroke-width="0.8" />
<text transform="translate(440.02,140.90)" font-family="Liberation Sans" font-size="7.0" font-weight="normal" text-anchor="end" fill="#666666">30</text>
<line x1="441.29" y1="219.97" x2="443.49" y2="219.97" stroke="#9a9a9a" stroke-width="0.8" />
<text transform="translate(438.99,222.17)" font-family="Liberation Sans" font-size="7.0" font-weight="normal" text-anchor="end" fill="#666666">30</text>
<line x1="515.78" y1="84.70" x2="513.58" y2="84.70" stroke="#9a9a9a" stroke-width="0.8" />
<text transform="translate(516.48,80.70) rotate(60.0)" font-family="Liberation Sans" font-size="7.0" font-weight="normal" text-anchor="middle" fill="#666666">70</text>
<line x1="545.59" y1="219.97" x2="543.39" y2="219.97" stroke="#9a9a9a" stroke-width="0.8" />
<text transform="translate(546.39,226.42) rotate(60.0)" font-family="Liberation Sans" font-size="7.0" font-weight="normal" text-anchor="middle" fill="#666666">30</text>
<line x1="388.28" y1="342.30" x2="388.28" y2="340.10" stroke="#9a9a9a" stroke-width="0.8" />
<text transform="translate(390.48,349.90) rotate(60.0)" font-family="Liberation Sans" font-size="7.0" font-weight="normal" text-anchor="middle" fill="#666666">60</text>
<line x1="568.02" y1="342.30" x2="568.02" y2="340.10" stroke="#9a9a9a" stroke-width="0.8" />
<text transform="translate(570.22,349.90) rotate(60.0)" font-family="Liberation Sans" font-size="7.0" font-weight="normal" text-anchor="middle" fill="#666666">60</text>
<line x1="358.36" y1="288.18" x2="360.56" y2="288.18" stroke="#9a9a9a" stroke-width="0.8" />
<text transform="translate(356.76,290.38)" font-family="Liberation Sans" font-size="7.0" font-weight="normal" text-anchor="end" fill="#666666">40</text>
<line x1="538.14" y1="288.14" x2="540.34" y2="288.14" stroke="#9a9a9a" stroke-width="0.8" />
<text transform="translate(536.54,290.34)" font-family="Liberation Sans" font-size="7.0" font-weight="normal" text-anchor="end" fill="#666666">40</text>
<line x1="433.22" y1="261.12" x2="431.02" y2="261.12" stroke="#9a9a9a" stroke-width="0.8" />
<text transform="translate(434.12,257.12) rotate(60.0)" font-family="Liberation Sans" font-size="7.0" font-weight="normal" text-anchor="middle" fill="#666666">40</text>
<line x1="613.08" y1="261.06" x2="610.88" y2="261.06" stroke="#9a9a9a" stroke-width="0.8" />
<text transform="translate(613.98,257.06) rotate(60.0)" font-family="Liberation Sans" font-size="7.0" font-weight="normal" text-anchor="middle" fill="#666666">40</text>
<line x1="448.76" y1="125.20" x2="450.96" y2="125.20" stroke="#9a9a9a" stroke-width="0.8" />
<text transform="translate(447.46,127.40)" font-family="Liberation Sans" font-size="7.0" font-weight="normal" text-anchor="end" fill="#666666">40</text>
<line x1="448.72" y1="233.56" x2="450.92" y2="233.56" stroke="#9a9a9a" stroke-width="0.8" />
<text transform="translate(446.42,235.76)" font-family="Liberation Sans" font-size="7.0" font-weight="normal" text-anchor="end" fill="#666666">40</text>
<line x1="523.24" y1="98.20" x2="521.04" y2="98.20" stroke="#9a9a9a" stroke-width="0.8" />
<text transform="translate(523.94,94.20) rotate(60.0)" font-family="Liberation Sans" font-size="7.0" font-weight="normal" text-anchor="middle" fill="#666666">60</text>
<line x1="538.12" y1="233.56" x2="535.92" y2="233.56" stroke="#9a9a9a" stroke-width="0.8" />
<text transform="translate(538.92,240.01) rotate(60.0)" font-family="Liberation Sans" font-size="7.0" font-weight="normal" text-anchor="middle" fill="#666666">40</text>
<line x1="403.25" y1="342.30" x2="403.25" y2="340.10" stroke="#9a9a9a" stroke-width="0.8" />
<text transform="translate(405.45,349.90) rotate(60.0)" font-family="Liberation Sans" font-size="7.0" font-weight="normal" text-anchor="middle" fill="#666666">50</text>
<line x1="583.00" y1="342.30" x2="583.00" y2="340.10" stroke="#9a9a9a" stroke-width="0.8" />
<text transform="translate(585.20,349.90) rotate(60.0)" font-family="Liberation Sans" font-size="7.0" font-weight="normal" text-anchor="middle" fill="#666666">50</text>
<line x1="365.85" y1="274.65" x2="368.05" y2="274.65" stroke="#9a9a9a" stroke-width="0.8" />
<text transform="translate(364.25,276.85)" font-family="Liberation Sans" font-size="7.0" font-weight="normal" text-anchor="end" fill="#666666">50</text>
<line x1="545.65" y1="274.60" x2="547.85" y2="274.60" stroke="#9a9a9a" stroke-width="0.8" />
<text transform="translate(544.05,276.80)" font-family="Liberation Sans" font-size="7.0" font-weight="normal" text-anchor="end" fill="#666666">50</text>
<line x1="440.70" y1="274.65" x2="438.50" y2="274.65" stroke="#9a9a9a" stroke-width="0.8" />
<text transform="translate(441.60,270.65) rotate(60.0)" font-family="Liberation Sans" font-size="7.0" font-weight="normal" text-anchor="middle" fill="#666666">50</text>
<line x1="620.55" y1="274.60" x2="618.35" y2="274.60" stroke="#9a9a9a" stroke-width="0.8" />
<text transform="translate(621.45,270.60) rotate(60.0)" font-family="Liberation Sans" font-size="7.0" font-weight="normal" text-anchor="middle" fill="#666666">50</text>
<line x1="456.20" y1="111.70" x2="458.40" y2="111.70" stroke="#9a9a9a" stroke-width="0.8" />
<text transform="translate(454.90,113.90)" font-family="Liberation Sans" font-size="7.0" font-weight="normal" text-anchor="end" fill="#666666">50</text>
<line x1="456.15" y1="247.15" x2="458.35" y2="247.15" stroke="#9a9a9a" stroke-width="0.8" />
<text transform="translate(453.85,249.35)" font-family="Liberation Sans" font-size="7.0" font-weight="normal" text-anchor="end" fill="#666666">50</text>
<line x1="530.70" y1="111.70" x2="528.50" y2="111.70" stroke="#9a9a9a" stroke-width="0.8" />
<text transform="translate(531.40,107.70) rotate(60.0)" font-family="Liberation Sans" font-size="7.0" font-weight="normal" text-anchor="middle" fill="#666666">50</text>
<line x1="530.65" y1="247.15" x2="528.45" y2="247.15" stroke="#9a9a9a" stroke-width="0.8" />
<text transform="translate(531.45,253.60) rotate(60.0)" font-family="Liberation Sans" font-size="7.0" font-weight="normal" text-anchor="middle" fill="#666666">50</text>
<line x1="418.22" y1="342.30" x2="418.22" y2="340.10" stroke="#9a9a9a" stroke-width="0.8" />
<text transform="translate(420.42,349.90) rotate(60.0)" font-family="Liberation Sans" font-size="7.0" font-weight="normal" text-anchor="middle" fill="#666666">40</text>
<line x1="597.98" y1="342.30" x2="597.98" y2="340.10" stroke="#9a9a9a" stroke-width="0.8" />
<text transform="translate(600.18,349.90) rotate(60.0)" font-family="Liberation Sans" font-size="7.0" font-weight="normal" text-anchor="middle" fill="#666666">40</text>
<line x1="373.34" y1="261.12" x2="375.54" y2="261.12" stroke="#9a9a9a" stroke-width="0.8" />
<text transform="translate(371.74,263.32)" font-family="Liberation Sans" font-size="7.0" font-weight="normal" text-anchor="end" fill="#666666">60</text>
<line x1="553.16" y1="261.06" x2="555.36" y2="261.06" stroke="#9a9a9a" stroke-width="0.8" />
<text transform="translate(551.56,263.26)" font-family="Liberation Sans" font-size="7.0" font-weight="normal" text-anchor="end" fill="#666666">60</text>
<line x1="448.18" y1="288.18" x2="445.98" y2="288.18" stroke="#9a9a9a" stroke-width="0.8" />
<text transform="translate(449.08,284.18) rotate(60.0)" font-family="Liberation Sans" font-size="7.0" font-weight="normal" text-anchor="middle" fill="#666666">60</text>
<line x1="628.02" y1="288.14" x2="625.82" y2="288.14" stroke="#9a9a9a" stroke-width="0.8" />
<text transform="translate(628.92,284.14) rotate(60.0)" font-family="Liberation Sans" font-size="7.0" font-weight="normal" text-anchor="middle" fill="#666666">60</text>
<line x1="463.64" y1="98.20" x2="465.84" y2="98.20" stroke="#9a9a9a" stroke-width="0.8" />
<text transform="translate(462.34,100.40)" font-family="Liberation Sans" font-size="7.0" font-weight="normal" text-anchor="end" fill="#666666">60</text>
<line x1="463.58" y1="260.74" x2="465.78" y2="260.74" stroke="#9a9a9a" stroke-width="0.8" />
<text transform="translate(461.28,262.94)" font-family="Liberation Sans" font-size="7.0" font-weight="normal" text-anchor="end" fill="#666666">60</text>
<line x1="538.16" y1="125.20" x2="535.96" y2="125.20" stroke="#9a9a9a" stroke-width="0.8" />
<text transform="translate(538.86,121.20) rotate(60.0)" font-family="Liberation Sans" font-size="7.0" font-weight="normal" text-anchor="middle" fill="#666666">40</text>
<line x1="523.18" y1="260.74" x2="520.98" y2="260.74" stroke="#9a9a9a" stroke-width="0.8" />
<text transform="translate(523.98,267.19) rotate(60.0)" font-family="Liberation Sans" font-size="7.0" font-weight="normal" text-anchor="middle" fill="#666666">60</text>
<line x1="433.19" y1="342.30" x2="433.19" y2="340.10" stroke="#9a9a9a" stroke-width="0.8" />
<text transform="translate(435.39,349.90) rotate(60.0)" font-family="Liberation Sans" font-size="7.0" font-weight="normal" text-anchor="middle" fill="#666666">30</text>
<line x1="612.96" y1="342.30" x2="612.96" y2="340.10" stroke="#9a9a9a" stroke-width="0.8" />
<text transform="translate(615.16,349.90) rotate(60.0)" font-family="Liberation Sans" font-size="7.0" font-weight="normal" text-anchor="middle" fill="#666666">30</text>
<line x1="380.83" y1="247.59" x2="383.03" y2="247.59" stroke="#9a9a9a" stroke-width="0.8" />
<text transform="translate(379.23,249.79)" font-family="Liberation Sans" font-size="7.0" font-weight="normal" text-anchor="end" fill="#666666">70</text>
<line x1="560.67" y1="247.52" x2="562.87" y2="247.52" stroke="#9a9a9a" stroke-width="0.8" />
<text transform="translate(559.07,249.72)" font-family="Liberation Sans" font-size="7.0" font-weight="normal" text-anchor="end" fill="#666666">70</text>
<line x1="455.66" y1="301.71" x2="453.46" y2="301.71" stroke="#9a9a9a" stroke-width="0.8" />
<text transform="translate(456.56,297.71) rotate(60.0)" font-family="Liberation Sans" font-size="7.0" font-weight="normal" text-anchor="middle" fill="#666666">70</text>
<line x1="635.49" y1="301.68" x2="633.29" y2="301.68" stroke="#9a9a9a" stroke-width="0.8" />
<text transform="translate(636.39,297.68) rotate(60.0)" font-family="Liberation Sans" font-size="7.0" font-weight="normal" text-anchor="middle" fill="#666666">70</text>
<line x1="471.08" y1="84.70" x2="473.28" y2="84.70" stroke="#9a9a9a" stroke-width="0.8" />
<text transform="translate(469.78,86.90)" font-family="Liberation Sans" font-size="7.0" font-weight="normal" text-anchor="end" fill="#666666">70</text>
<line x1="471.01" y1="274.33" x2="473.21" y2="274.33" stroke="#9a9a9a" stroke-width="0.8" />
<text transform="translate(468.71,276.53)" font-family="Liberation Sans" font-size="7.0" font-weight="normal" text-anchor="end" fill="#666666">70</text>
<line x1="545.62" y1="138.70" x2="543.42" y2="138.70" stroke="#9a9a9a" stroke-width="0.8" />
<text transform="translate(546.32,134.70) rotate(60.0)" font-family="Liberation Sans" font-size="7.0" font-weight="normal" text-anchor="middle" fill="#666666">30</text>
<line x1="515.71" y1="274.33" x2="513.51" y2="274.33" stroke="#9a9a9a" stroke-width="0.8" />
<text transform="translate(516.51,280.78) rotate(60.0)" font-family="Liberation Sans" font-size="7.0" font-weight="normal" text-anchor="middle" fill="#666666">70</text>
<line x1="448.16" y1="342.30" x2="448.16" y2="340.10" stroke="#9a9a9a" stroke-width="0.8" />
<text transform="translate(450.36,349.90) rotate(60.0)" font-family="Liberation Sans" font-size="7.0" font-weight="normal" text-anchor="middle" fill="#666666">20</text>
<line x1="627.94" y1="342.30" x2="627.94" y2="340.10" stroke="#9a9a9a" stroke-width="0.8" />
<text transform="translate(630.14,349.90) rotate(60.0)" font-family="Liberation Sans" font-size="7.0" font-weight="normal" text-anchor="middle" fill="#666666">20</text>
<line x1="388.32" y1="234.06" x2="390.52" y2="234.06" stroke="#9a9a9a" stroke-width="0.8" />
<text transform="translate(386.72,236.26)" font-family="Liberation Sans" font-size="7.0" font-weight="normal" text-anchor="end" fill="#666666">80</text>
<line x1="568.18" y1="233.98" x2="570.38" y2="233.98" stroke="#9a9a9a" stroke-width="0.8" />
<text transform="translate(566.58,236.18)" font-family="Liberation Sans" font-size="7.0" font-weight="normal" text-anchor="end" fill="#666666">80</text>
<line x1="463.14" y1="315.24" x2="460.94" y2="315.24" stroke="#9a9a9a" stroke-width="0.8" />
<text transform="translate(464.04,311.24) rotate(60.0)" font-family="Liberation Sans" font-size="7.0" font-weight="normal" text-anchor="middle" fill="#666666">80</text>
<line x1="642.96" y1="315.22" x2="640.76" y2="315.22" stroke="#9a9a9a" stroke-width="0.8" />
<text transform="translate(643.86,311.22) rotate(60.0)" font-family="Liberation Sans" font-size="7.0" font-weight="normal" text-anchor="middle" fill="#666666">80</text>
<line x1="478.52" y1="71.20" x2="480.72" y2="71.20" stroke="#9a9a9a" stroke-width="0.8" />
<text transform="translate(477.22,73.40)" font-family="Liberation Sans" font-size="7.0" font-weight="normal" text-anchor="end" fill="#666666">80</text>
<line x1="478.44" y1="287.92" x2="480.64" y2="287.92" stroke="#9a9a9a" stroke-width="0.8" />
<text transform="translate(476.14,290.12)" font-family="Liberation Sans" font-size="7.0" font-weight="normal" text-anchor="end" fill="#666666">80</text>
<line x1="553.08" y1="152.20" x2="550.88" y2="152.20" stroke="#9a9a9a" stroke-width="0.8" />
<text transform="translate(553.78,148.20) rotate(60.0)" font-family="Liberation Sans" font-size="7.0" font-weight="normal" text-anchor="middle" fill="#666666">20</text>
<line x1="508.24" y1="287.92" x2="506.04" y2="287.92" stroke="#9a9a9a" stroke-width="0.8" />
<text transform="translate(509.04,294.37) rotate(60.0)" font-family="Liberation Sans" font-size="7.0" font-weight="normal" text-anchor="middle" fill="#666666">80</text>
<line x1="463.13" y1="342.30" x2="463.13" y2="340.10" stroke="#9a9a9a" stroke-width="0.8" />
<text transform="translate(465.33,349.90) rotate(60.0)" font-family="Liberation Sans" font-size="7.0" font-weight="normal" text-anchor="middle" fill="#666666">10</text>
<line x1="642.92" y1="342.30" x2="642.92" y2="340.10" stroke="#9a9a9a" stroke-width="0.8" />
<text transform="translate(645.12,349.90) rotate(60.0)" font-family="Liberation Sans" font-size="7.0" font-weight="normal" text-anchor="middle" fill="#666666">10</text>
<line x1="395.81" y1="220.53" x2="398.01" y2="220.53" stroke="#9a9a9a" stroke-width="0.8" />
<text transform="translate(394.21,222.73)" font-family="Liberation Sans" font-size="7.0" font-weight="normal" text-anchor="end" fill="#666666">90</text>
<line x1="575.69" y1="220.44" x2="577.89" y2="220.44" stroke="#9a9a9a" stroke-width="0.8" />
<text transform="translate(574.09,222.64)" font-family="Liberation Sans" font-size="7.0" font-weight="normal" text-anchor="end" fill="#666666">90</text>
<line x1="470.62" y1="328.77" x2="468.42" y2="328.77" stroke="#9a9a9a" stroke-width="0.8" />
<text transform="translate(471.52,324.77) rotate(60.0)" font-family="Liberation Sans" font-size="7.0" font-weight="normal" text-anchor="middle" fill="#666666">90</text>
<line x1="650.43" y1="328.76" x2="648.23" y2="328.76" stroke="#9a9a9a" stroke-width="0.8" />
<text transform="translate(651.33,324.76) rotate(60.0)" font-family="Liberation Sans" font-size="7.0" font-weight="normal" text-anchor="middle" fill="#666666">90</text>
<line x1="485.96" y1="57.70" x2="488.16" y2="57.70" stroke="#9a9a9a" stroke-width="0.8" />
<text transform="translate(484.66,59.90)" font-family="Liberation Sans" font-size="7.0" font-weight="normal" text-anchor="end" fill="#666666">90</text>
<line x1="485.87" y1="301.51" x2="488.07" y2="301.51" stroke="#9a9a9a" stroke-width="0.8" />
<text transform="translate(483.57,303.71)" font-family="Liberation Sans" font-size="7.0" font-weight="normal" text-anchor="end" fill="#666666">90</text>
<line x1="560.54" y1="165.70" x2="558.34" y2="165.70" stroke="#9a9a9a" stroke-width="0.8" />
<text transform="translate(561.24,161.70) rotate(60.0)" font-family="Liberation Sans" font-size="7.0" font-weight="normal" text-anchor="middle" fill="#666666">10</text>
<line x1="500.77" y1="301.51" x2="498.57" y2="301.51" stroke="#9a9a9a" stroke-width="0.8" />
<text transform="translate(501.57,307.96) rotate(60.0)" font-family="Liberation Sans" font-size="7.0" font-weight="normal" text-anchor="middle" fill="#666666">90</text>
<line x1="419.00" y1="179.20" x2="493.40" y2="44.20" stroke="#4d689a" stroke-width="1.3" />
<line x1="493.40" y1="44.20" x2="530.70" y2="111.70" stroke="#4d689a" stroke-width="1.3" />
<line x1="530.70" y1="111.70" x2="568.00" y2="179.20" stroke="#2b2b2b" stroke-width="1.2" />
<line x1="568.00" y1="179.20" x2="493.30" y2="315.10" stroke="#4d689a" stroke-width="1.3" />
<line x1="493.30" y1="315.10" x2="419.00" y2="179.20" stroke="#4d689a" stroke-width="1.3" />
<line x1="456.20" y1="111.70" x2="530.70" y2="111.70" stroke="#4d689a" stroke-width="1.3" />
<line x1="456.15" y1="247.15" x2="530.65" y2="247.15" stroke="#4d689a" stroke-width="1.3" />
<line x1="456.20" y1="111.70" x2="530.65" y2="247.15" stroke="#4d689a" stroke-width="1.3" />
<line x1="530.70" y1="111.70" x2="456.15" y2="247.15" stroke="#4d689a" stroke-width="1.3" />
<polygon points="403.3,207.0 328.4,342.3 478.1,342.3" fill="none" stroke="#4d689a" stroke-width="1.3"/>
<polygon points="583.2,206.9 508.1,342.3 657.9,342.3" fill="none" stroke="#4d689a" stroke-width="1.3"/>
<line x1="365.85" y1="274.65" x2="440.70" y2="274.65" stroke="#4d689a" stroke-width="1.3" />
<line x1="365.85" y1="274.65" x2="403.25" y2="342.30" stroke="#4d689a" stroke-width="1.3" />
<line x1="440.70" y1="274.65" x2="403.25" y2="342.30" stroke="#4d689a" stroke-width="1.3" />
<line x1="545.65" y1="274.60" x2="620.55" y2="274.60" stroke="#4d689a" stroke-width="1.3" />
<line x1="545.65" y1="274.60" x2="583.00" y2="342.30" stroke="#4d689a" stroke-width="1.3" />
<line x1="620.55" y1="274.60" x2="583.00" y2="342.30" stroke="#4d689a" stroke-width="1.3" />
<text transform="translate(442.60,113.40) rotate(-59.5)" font-family="Liberation Sans" font-size="7.6" font-weight="bold" text-anchor="middle" fill="#1e1e1e" textLength="135" lengthAdjust="spacingAndGlyphs" stroke="#1e1e1e" stroke-width="0.15">Sulfate (SO4) + Chloride (Cl) + Fluoride (F)</text>
<text transform="translate(543.40,113.60) rotate(58.5)" font-family="Liberation Sans" font-size="7.8" font-weight="bold" text-anchor="middle" fill="#1e1e1e" textLength="81" lengthAdjust="spacingAndGlyphs" stroke="#1e1e1e" stroke-width="0.15">Alkaline Earths (Ca + Mg)</text>
<text transform="translate(439.20,248.60) rotate(58.5)" font-family="Liberation Sans" font-size="7.8" font-weight="bold" text-anchor="middle" fill="#1e1e1e" textLength="50" lengthAdjust="spacingAndGlyphs" stroke="#1e1e1e" stroke-width="0.15">Alkalis (Na + K)</text>
<text transform="translate(542.00,259.60) rotate(-59.5)" font-family="Liberation Sans" font-size="7.7" font-weight="bold" text-anchor="middle" fill="#1e1e1e" textLength="127" lengthAdjust="spacingAndGlyphs" stroke="#1e1e1e" stroke-width="0.15">Bicarbonate (HCO3) + Carbonate (CO3)</text>
<text transform="translate(403.30,199.00)" font-family="Liberation Sans" font-size="8" font-weight="bold" text-anchor="middle" fill="#1e1e1e" textLength="9.7" lengthAdjust="spacingAndGlyphs">Mg</text>
<text transform="translate(328.60,356.40)" font-family="Liberation Sans" font-size="8" font-weight="bold" text-anchor="middle" fill="#1e1e1e" textLength="8.6" lengthAdjust="spacingAndGlyphs">Ca</text>
<text transform="translate(469.90,356.40)" font-family="Liberation Sans" font-size="8" font-weight="bold" text-anchor="start" fill="#1e1e1e" textLength="17.1" lengthAdjust="spacingAndGlyphs">Na+K</text>
<text transform="translate(489.60,356.40)" font-family="Liberation Sans" font-size="8" font-weight="bold" text-anchor="start" fill="#1e1e1e" textLength="36.5" lengthAdjust="spacingAndGlyphs">CO3+HCO3</text>
<text transform="translate(583.20,199.00)" font-family="Liberation Sans" font-size="8" font-weight="bold" text-anchor="middle" fill="#1e1e1e" textLength="14" lengthAdjust="spacingAndGlyphs">SO4</text>
<text transform="translate(654.80,356.40)" font-family="Liberation Sans" font-size="8" font-weight="bold" text-anchor="start" fill="#1e1e1e" textLength="7" lengthAdjust="spacingAndGlyphs">Cl</text>
<text transform="translate(404.60,249.30)" font-family="Liberation Sans" font-size="10" font-weight="normal" text-anchor="middle" fill="#2a2a2a">C</text>
<text transform="translate(362.50,330.70)" font-family="Liberation Sans" font-size="10" font-weight="normal" text-anchor="middle" fill="#2a2a2a">A</text>
<text transform="translate(402.50,326.80)" font-family="Liberation Sans" font-size="10" font-weight="normal" text-anchor="middle" fill="#2a2a2a">B</text>
<text transform="translate(434.80,332.00)" font-family="Liberation Sans" font-size="10" font-weight="normal" text-anchor="middle" fill="#2a2a2a">D</text>
<text transform="translate(583.80,262.10)" font-family="Liberation Sans" font-size="10" font-weight="normal" text-anchor="middle" fill="#2a2a2a">F</text>
<text transform="translate(583.20,312.60)" font-family="Liberation Sans" font-size="10" font-weight="normal" text-anchor="middle" fill="#2a2a2a">B</text>
<text transform="translate(542.20,319.00)" font-family="Liberation Sans" font-size="10" font-weight="normal" text-anchor="middle" fill="#2a2a2a">E</text>
<text transform="translate(625.90,322.30)" font-family="Liberation Sans" font-size="10" font-weight="normal" text-anchor="middle" fill="#2a2a2a">G</text>
<text transform="translate(493.00,92.50)" font-family="Liberation Sans" font-size="10" font-weight="normal" text-anchor="middle" fill="#3f9a47" stroke="#3f9a47" stroke-width="0.35">5</text>
<text transform="translate(490.20,136.00)" font-family="Liberation Sans" font-size="10" font-weight="normal" text-anchor="middle" fill="#3f9a47" stroke="#3f9a47" stroke-width="0.35">4</text>
<text transform="translate(438.30,195.60)" font-family="Liberation Sans" font-size="10" font-weight="normal" text-anchor="middle" fill="#3f9a47" stroke="#3f9a47" stroke-width="0.35">1</text>
<text transform="translate(544.20,192.80)" font-family="Liberation Sans" font-size="10" font-weight="normal" text-anchor="middle" fill="#3f9a47" stroke="#3f9a47" stroke-width="0.35">2</text>
<text transform="translate(488.20,242.80)" font-family="Liberation Sans" font-size="10" font-weight="normal" text-anchor="middle" fill="#3f9a47" stroke="#3f9a47" stroke-width="0.35">3</text>
<text transform="translate(493.80,270.00)" font-family="Liberation Sans" font-size="10" font-weight="normal" text-anchor="middle" fill="#3f9a47" stroke="#3f9a47" stroke-width="0.35">6</text>
<text transform="translate(358.00,70.90)" font-family="Liberation Sans" font-size="9.4" font-weight="normal" text-anchor="start" fill="#2f8f3a" textLength="65" lengthAdjust="spacingAndGlyphs" stroke="#2f8f3a" stroke-width="0.3">1. CaHCO3 type</text>
<text transform="translate(358.00,80.82)" font-family="Liberation Sans" font-size="9.4" font-weight="normal" text-anchor="start" fill="#2f8f3a" textLength="49" lengthAdjust="spacingAndGlyphs" stroke="#2f8f3a" stroke-width="0.3">2. NaCl type</text>
<text transform="translate(358.00,90.74)" font-family="Liberation Sans" font-size="9.4" font-weight="normal" text-anchor="start" fill="#2f8f3a" textLength="84.7" lengthAdjust="spacingAndGlyphs" stroke="#2f8f3a" stroke-width="0.3">3. Mixed CaNaHCO3</text>
<text transform="translate(358.00,100.66)" font-family="Liberation Sans" font-size="9.4" font-weight="normal" text-anchor="start" fill="#2f8f3a" textLength="69" lengthAdjust="spacingAndGlyphs" stroke="#2f8f3a" stroke-width="0.3">4. Mixed CaMgCl</text>
<text transform="translate(358.00,110.58)" font-family="Liberation Sans" font-size="9.4" font-weight="normal" text-anchor="start" fill="#2f8f3a" textLength="49" lengthAdjust="spacingAndGlyphs" stroke="#2f8f3a" stroke-width="0.3">5. CaCl type</text>
<text transform="translate(358.00,120.50)" font-family="Liberation Sans" font-size="9.4" font-weight="normal" text-anchor="start" fill="#2f8f3a" textLength="66.5" lengthAdjust="spacingAndGlyphs" stroke="#2f8f3a" stroke-width="0.3">6. NaHCO3 type</text>
<text transform="translate(570.20,94.30)" font-family="Liberation Sans" font-size="9.6" font-weight="normal" text-anchor="start" fill="#1c1c1c" textLength="64.3" lengthAdjust="spacingAndGlyphs" stroke="#1c1c1c" stroke-width="0.25">A. Calcium type</text>
<text transform="translate(570.20,104.05)" font-family="Liberation Sans" font-size="9.6" font-weight="normal" text-anchor="start" fill="#1c1c1c" textLength="86.2" lengthAdjust="spacingAndGlyphs" stroke="#1c1c1c" stroke-width="0.25">B. No dominant type</text>
<text transform="translate(570.20,113.80)" font-family="Liberation Sans" font-size="9.6" font-weight="normal" text-anchor="start" fill="#1c1c1c" textLength="79.6" lengthAdjust="spacingAndGlyphs" stroke="#1c1c1c" stroke-width="0.25">C. Magnesium type</text>
<text transform="translate(570.20,123.55)" font-family="Liberation Sans" font-size="9.6" font-weight="normal" text-anchor="start" fill="#1c1c1c" textLength="62.8" lengthAdjust="spacingAndGlyphs" stroke="#1c1c1c" stroke-width="0.25">D. Sodium type</text>
<text transform="translate(570.20,133.30)" font-family="Liberation Sans" font-size="9.6" font-weight="normal" text-anchor="start" fill="#1c1c1c" textLength="79.6" lengthAdjust="spacingAndGlyphs" stroke="#1c1c1c" stroke-width="0.25">E. Bicarbonate type</text>
<text transform="translate(570.20,143.05)" font-family="Liberation Sans" font-size="9.6" font-weight="normal" text-anchor="start" fill="#1c1c1c" textLength="57.7" lengthAdjust="spacingAndGlyphs" stroke="#1c1c1c" stroke-width="0.25">F. Sulfate type</text>
<text transform="translate(570.20,152.80)" font-family="Liberation Sans" font-size="9.6" font-weight="normal" text-anchor="start" fill="#1c1c1c" textLength="66.4" lengthAdjust="spacingAndGlyphs" stroke="#1c1c1c" stroke-width="0.25">G. Chloride type</text>
<rect x="614.3" y="166.2" width="5" height="5" fill="#e60000" stroke="#5a0000" stroke-width="0.7"/>
<text transform="translate(622.00,173.20)" font-family="Liberation Sans" font-size="9.4" font-weight="normal" text-anchor="start" fill="#d42a2a" textLength="38.7" lengthAdjust="spacingAndGlyphs" stroke="#d42a2a" stroke-width="0.25">SS1-SS44</text>
<polygon points="614.2,200.6 619.3,200.6 616.75,195.3" fill="#6a3aa8" stroke="#2a1050" stroke-width="0.6"/>
<text transform="translate(619.60,200.90)" font-family="Liberation Sans" font-size="9.4" font-weight="normal" text-anchor="start" fill="#d42a2a" textLength="49.3" lengthAdjust="spacingAndGlyphs" stroke="#d42a2a" stroke-width="0.25">OW1-OW31</text>
<text x="627.70" y="42.00" font-family="Liberation Serif" font-size="14.5" font-weight="bold" text-anchor="middle" fill="#111" >(b )</text>
<g fill="#f00000" stroke="#4a0000" stroke-width="0.6">
<rect x="456.2" y="125.6" width="5" height="5"/>
<rect x="447.0" y="149.7" width="5" height="5"/>
<rect x="464.4" y="157.2" width="5" height="5"/>
<rect x="481.0" y="150.5" width="5" height="5"/>
<rect x="471.1" y="168.6" width="5" height="5"/>
<rect x="449.4" y="162.0" width="5" height="5"/>
<rect x="460.8" y="171.9" width="5" height="5"/>
<rect x="450.6" y="169.6" width="5" height="5"/>
<rect x="441.2" y="172.0" width="5" height="5"/>
<rect x="456.7" y="176.7" width="5" height="5"/>
<rect x="454.8" y="182.7" width="5" height="5"/>
<rect x="449.7" y="185.1" width="5" height="5"/>
<rect x="446.6" y="173.9" width="5" height="5"/>
<rect x="440.0" y="177.4" width="5" height="5"/>
<rect x="435.5" y="177.0" width="5" height="5"/>
<rect x="438.9" y="173.8" width="5" height="5"/>
<rect x="445.7" y="192.7" width="5" height="5"/>
<rect x="445.3" y="200.2" width="5" height="5"/>
<rect x="452.7" y="200.2" width="5" height="5"/>
<rect x="454.5" y="191.8" width="5" height="5"/>
<rect x="457.1" y="191.8" width="5" height="5"/>
<rect x="458.8" y="197.1" width="5" height="5"/>
<rect x="464.1" y="191.8" width="5" height="5"/>
<rect x="474.1" y="196.7" width="5" height="5"/>
<rect x="469.8" y="207.0" width="5" height="5"/>
<rect x="464.1" y="213.3" width="5" height="5"/>
<rect x="472.5" y="213.1" width="5" height="5"/>
<rect x="469.1" y="221.0" width="5" height="5"/>
<rect x="489.8" y="142.8" width="5" height="5"/>
<rect x="502.7" y="154.5" width="5" height="5"/>
<rect x="518.9" y="169.5" width="5" height="5"/>
<rect x="484.3" y="178.9" width="5" height="5"/>
<rect x="488.3" y="186.1" width="5" height="5"/>
<rect x="493.2" y="190.9" width="5" height="5"/>
<rect x="486.1" y="198.3" width="5" height="5"/>
<rect x="483.5" y="200.1" width="5" height="5"/>
<rect x="498.0" y="199.2" width="5" height="5"/>
<rect x="488.8" y="212.4" width="5" height="5"/>
<rect x="498.8" y="210.6" width="5" height="5"/>
<rect x="482.6" y="222.4" width="5" height="5"/>
<rect x="498.2" y="226.6" width="5" height="5"/>
<rect x="383.3" y="255.8" width="5" height="5"/>
<rect x="394.8" y="257.7" width="5" height="5"/>
<rect x="373.1" y="284.0" width="5" height="5"/>
<rect x="385.1" y="277.5" width="5" height="5"/>
<rect x="385.0" y="286.3" width="5" height="5"/>
<rect x="382.3" y="291.2" width="5" height="5"/>
<rect x="392.6" y="287.6" width="5" height="5"/>
<rect x="373.5" y="297.2" width="5" height="5"/>
<rect x="365.9" y="303.3" width="5" height="5"/>
<rect x="395.9" y="290.2" width="5" height="5"/>
<rect x="400.3" y="274.4" width="5" height="5"/>
<rect x="402.9" y="275.8" width="5" height="5"/>
<rect x="399.8" y="281.0" width="5" height="5"/>
<rect x="403.6" y="284.0" width="5" height="5"/>
<rect x="409.0" y="280.5" width="5" height="5"/>
<rect x="409.7" y="285.5" width="5" height="5"/>
<rect x="403.3" y="289.4" width="5" height="5"/>
<rect x="409.9" y="289.3" width="5" height="5"/>
<rect x="417.4" y="274.1" width="5" height="5"/>
<rect x="397.6" y="301.5" width="5" height="5"/>
<rect x="412.7" y="307.8" width="5" height="5"/>
<rect x="427.9" y="281.4" width="5" height="5"/>
<rect x="429.6" y="286.4" width="5" height="5"/>
<rect x="424.1" y="289.7" width="5" height="5"/>
<rect x="418.2" y="296.0" width="5" height="5"/>
<rect x="429.0" y="297.7" width="5" height="5"/>
<rect x="432.6" y="298.8" width="5" height="5"/>
<rect x="433.5" y="300.5" width="5" height="5"/>
<rect x="441.0" y="299.2" width="5" height="5"/>
<rect x="436.1" y="307.1" width="5" height="5"/>
<rect x="438.8" y="308.0" width="5" height="5"/>
<rect x="439.2" y="313.7" width="5" height="5"/>
<rect x="444.5" y="310.2" width="5" height="5"/>
<rect x="445.3" y="322.4" width="5" height="5"/>
<rect x="427.4" y="293.5" width="5" height="5"/>
<rect x="521.8" y="339.6" width="5" height="5"/>
<rect x="525.9" y="339.6" width="5" height="5"/>
<rect x="526.5" y="332.6" width="5" height="5"/>
<rect x="530.3" y="329.4" width="5" height="5"/>
<rect x="528.8" y="335.9" width="5" height="5"/>
<rect x="537.6" y="330.9" width="5" height="5"/>
<rect x="542.6" y="330.6" width="5" height="5"/>
<rect x="547.2" y="329.1" width="5" height="5"/>
<rect x="548.7" y="331.2" width="5" height="5"/>
<rect x="553.4" y="325.9" width="5" height="5"/>
<rect x="556.9" y="325.6" width="5" height="5"/>
<rect x="556.0" y="332.1" width="5" height="5"/>
<rect x="533.2" y="339.4" width="5" height="5"/>
<rect x="563.2" y="317.4" width="5" height="5"/>
<rect x="561.2" y="322.0" width="5" height="5"/>
<rect x="565.8" y="321.5" width="5" height="5"/>
<rect x="561.7" y="334.3" width="5" height="5"/>
<rect x="569.9" y="333.8" width="5" height="5"/>
<rect x="572.9" y="336.8" width="5" height="5"/>
<rect x="582.6" y="333.8" width="5" height="5"/>
<rect x="594.9" y="333.3" width="5" height="5"/>
<rect x="602.6" y="335.3" width="5" height="5"/>
<rect x="601.5" y="318.4" width="5" height="5"/>
</g><g fill="#6934a8" stroke="#1c0c44" stroke-width="0.6">
<polygon points="452.8,134.4 458.6,134.4 455.7,129.3"/>
<polygon points="452.3,140.9 458.1,140.9 455.2,135.8"/>
<polygon points="454.7,147.1 460.5,147.1 457.6,142.0"/>
<polygon points="442.2,156.7 448.0,156.7 445.1,151.6"/>
<polygon points="445.4,159.4 451.2,159.4 448.3,154.3"/>
<polygon points="448.1,158.6 453.9,158.6 451.0,153.5"/>
<polygon points="451.6,157.4 457.4,157.4 454.5,152.3"/>
<polygon points="436.5,160.8 442.3,160.8 439.4,155.7"/>
<polygon points="433.5,163.7 439.3,163.7 436.4,158.6"/>
<polygon points="441.5,170.4 447.3,170.4 444.4,165.3"/>
<polygon points="450.4,169.0 456.2,169.0 453.3,163.9"/>
<polygon points="451.0,167.2 456.8,167.2 453.9,162.1"/>
<polygon points="446.3,174.3 452.1,174.3 449.2,169.2"/>
<polygon points="463.4,174.6 469.2,174.6 466.3,169.5"/>
<polygon points="450.1,170.6 455.9,170.6 453.0,165.5"/>
<polygon points="466.8,183.1 472.6,183.1 469.7,178.0"/>
<polygon points="478.6,184.8 484.4,184.8 481.5,179.7"/>
<polygon points="436.1,180.6 441.9,180.6 439.0,175.5"/>
<polygon points="459.9,195.8 465.7,195.8 462.8,190.7"/>
<polygon points="478.6,205.8 484.4,205.8 481.5,200.7"/>
<polygon points="478.6,214.2 484.4,214.2 481.5,209.1"/>
<polygon points="469.4,216.4 475.2,216.4 472.3,211.3"/>
<polygon points="472.4,215.2 478.2,215.2 475.3,210.1"/>
<polygon points="469.7,225.7 475.5,225.7 472.6,220.6"/>
<polygon points="481.5,222.9 487.3,222.9 484.4,217.8"/>
<polygon points="488.5,183.5 494.3,183.5 491.4,178.4"/>
<polygon points="485.3,195.3 491.1,195.3 488.2,190.2"/>
<polygon points="490.1,227.2 495.9,227.2 493.0,222.1"/>
<polygon points="493.2,234.2 499.0,234.2 496.1,229.1"/>
<polygon points="380.7,262.7 386.5,262.7 383.6,257.6"/>
<polygon points="385.5,260.5 391.3,260.5 388.4,255.4"/>
<polygon points="389.8,263.9 395.6,263.9 392.7,258.8"/>
<polygon points="388.1,267.7 393.9,267.7 391.0,262.6"/>
<polygon points="375.8,273.5 381.6,273.5 378.7,268.4"/>
<polygon points="378.9,280.1 384.7,280.1 381.8,275.0"/>
<polygon points="375.8,283.6 381.6,283.6 378.7,278.5"/>
<polygon points="381.7,283.3 387.5,283.3 384.6,278.2"/>
<polygon points="387.7,283.6 393.5,283.6 390.6,278.5"/>
<polygon points="384.8,286.4 390.6,286.4 387.7,281.3"/>
<polygon points="381.7,292.3 387.5,292.3 384.6,287.2"/>
<polygon points="368.1,292.8 373.9,292.8 371.0,287.7"/>
<polygon points="369.3,300.7 375.1,300.7 372.2,295.6"/>
<polygon points="375.8,303.1 381.6,303.1 378.7,298.0"/>
<polygon points="367.5,305.1 373.3,305.1 370.4,300.0"/>
<polygon points="383.2,254.6 389.0,254.6 386.1,249.5"/>
<polygon points="406.9,277.0 412.7,277.0 409.8,271.9"/>
<polygon points="416.5,273.9 422.3,273.9 419.4,268.8"/>
<polygon points="413.0,281.4 418.8,281.4 415.9,276.3"/>
<polygon points="422.2,286.8 428.0,286.8 425.1,281.7"/>
<polygon points="427.9,295.5 433.7,295.5 430.8,290.4"/>
<polygon points="430.3,296.2 436.1,296.2 433.2,291.1"/>
<polygon points="432.9,297.5 438.7,297.5 435.8,292.4"/>
<polygon points="422.4,300.8 428.2,300.8 425.3,295.7"/>
<polygon points="422.4,311.8 428.2,311.8 425.3,306.7"/>
<polygon points="434.4,308.7 440.2,308.7 437.3,303.6"/>
<polygon points="417.4,317.6 423.2,317.6 420.3,312.5"/>
<polygon points="443.6,311.5 449.4,311.5 446.5,306.4"/>
<polygon points="447.6,317.6 453.4,317.6 450.5,312.5"/>
<polygon points="524.1,339.2 529.9,339.2 527.0,334.1"/>
<polygon points="532.8,340.1 538.6,340.1 535.7,335.0"/>
<polygon points="532.8,343.0 538.6,343.0 535.7,337.9"/>
<polygon points="539.0,336.9 544.8,336.9 541.9,331.8"/>
<polygon points="537.8,341.2 543.6,341.2 540.7,336.1"/>
<polygon points="536.6,344.2 542.4,344.2 539.5,339.1"/>
<polygon points="539.8,343.9 545.6,343.9 542.7,338.8"/>
<polygon points="544.2,338.3 550.0,338.3 547.1,333.2"/>
<polygon points="545.4,341.2 551.2,341.2 548.3,336.1"/>
<polygon points="547.1,343.6 552.9,343.6 550.0,338.5"/>
<polygon points="549.2,339.8 555.0,339.8 552.1,334.7"/>
<polygon points="551.8,337.7 557.6,337.7 554.7,332.6"/>
<polygon points="552.7,340.4 558.5,340.4 555.6,335.3"/>
<polygon points="554.1,343.0 559.9,343.0 557.0,337.9"/>
<polygon points="543.0,343.6 548.8,343.6 545.9,338.5"/>
<polygon points="541.3,341.2 547.1,341.2 544.2,336.1"/>
<polygon points="568.5,328.4 574.3,328.4 571.4,323.3"/>
<polygon points="562.4,337.1 568.2,337.1 565.3,332.0"/>
<polygon points="563.8,343.0 569.6,343.0 566.7,337.9"/>
<polygon points="564.4,343.2 570.2,343.2 567.3,338.1"/>
<polygon points="567.4,342.2 573.2,342.2 570.3,337.1"/>
</g>
</svg></body></html>
